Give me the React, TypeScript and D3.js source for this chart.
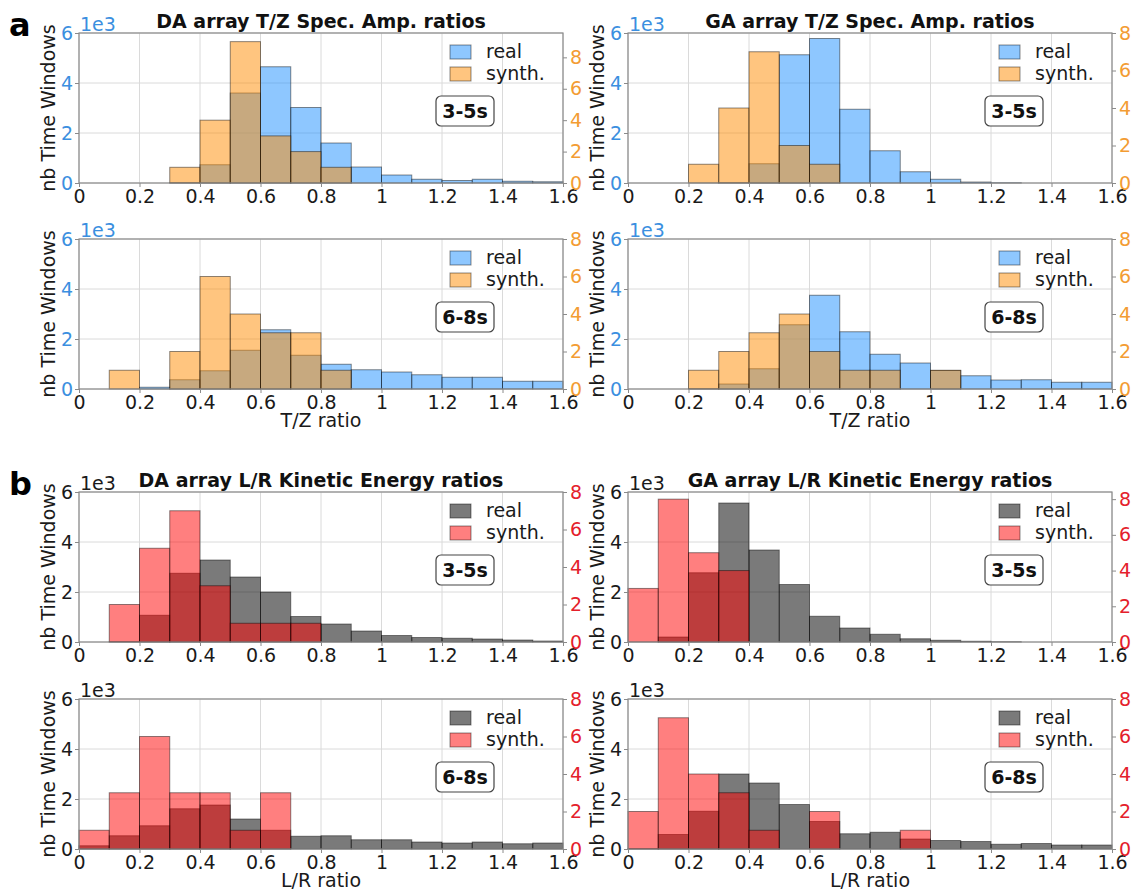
import { useEffect, useRef } from 'react';
import * as d3 from 'd3';

// histogram bins (ratio), 0.1 wide
const binStarts = [0, 0.1, 0.2, 0.3, 0.4, 0.5, 0.6, 0.7, 0.8, 0.9, 1.0, 1.1, 1.2, 1.3, 1.4, 1.5];
const binWidth = 0.1;
const xTicks = [0, 0.2, 0.4, 0.6, 0.8, 1, 1.2, 1.4, 1.6];
const leftTicks = [0, 2, 4, 6];
const rightTicks = [0, 2, 4, 6, 8];

// real = nb time windows (x1e3, left axis), synth = counts (right axis)
const daTZ35Real = [0, 0, 0, 0.02, 0.73, 3.6, 4.65, 3.02, 1.6, 0.64, 0.32, 0.15, 0.1, 0.15, 0.07, 0.05];
const daTZ35Synth = [0, 0, 0, 1, 4, 9, 3, 2, 1, 0, 0, 0, 0, 0, 0, 0];
const gaTZ35Real = [0, 0, 0, 0.02, 0.77, 5.13, 5.78, 2.95, 1.29, 0.45, 0.15, 0.04, 0.01, 0, 0, 0];
const gaTZ35Synth = [0, 0, 1, 4, 7, 2, 1, 0, 0, 0, 0, 0, 0, 0, 0, 0];
const daTZ68Real = [0, 0, 0.07, 0.37, 0.73, 1.55, 2.37, 1.35, 0.99, 0.77, 0.68, 0.57, 0.47, 0.47, 0.31, 0.31];
const daTZ68Synth = [0, 1, 0, 2, 6, 4, 3, 3, 1, 0, 0, 0, 0, 0, 0, 0];
const gaTZ68Real = [0, 0, 0.02, 0.2, 0.81, 2.57, 3.75, 2.29, 1.39, 1.04, 0.74, 0.53, 0.36, 0.37, 0.27, 0.27];
const gaTZ68Synth = [0, 0, 1, 2, 3, 4, 2, 1, 1, 0, 1, 0, 0, 0, 0, 0];

const daLR35Real = [0, 0.02, 1.07, 2.75, 3.28, 2.6, 2.0, 1.02, 0.72, 0.44, 0.26, 0.18, 0.15, 0.12, 0.08, 0.04];
const daLR35Synth = [0, 2, 5, 7, 3, 1, 1, 1, 0, 0, 0, 0, 0, 0, 0, 0];
const gaLR35Real = [0, 0.2, 2.77, 5.56, 3.68, 2.3, 1.03, 0.56, 0.31, 0.13, 0.07, 0.03, 0.01, 0, 0, 0];
const gaLR35Synth = [3, 8, 5, 4, 0, 0, 0, 0, 0, 0, 0, 0, 0, 0, 0, 0];
const daLR68Real = [0.13, 0.53, 0.93, 1.61, 1.76, 1.2, 0.75, 0.51, 0.53, 0.37, 0.37, 0.28, 0.24, 0.28, 0.21, 0.24];
const daLR68Synth = [1, 3, 6, 3, 3, 1, 3, 0, 0, 0, 0, 0, 0, 0, 0, 0];
const gaLR68Real = [0.02, 0.58, 1.51, 3.0, 2.64, 1.78, 1.1, 0.61, 0.67, 0.4, 0.34, 0.3, 0.19, 0.22, 0.16, 0.16];
const gaLR68Synth = [2, 7, 4, 3, 1, 0, 2, 0, 0, 1, 0, 0, 0, 0, 0, 0];

const panels = [
  { row: 0, col: 0, group: 'a', title: 'DA array T/Z Spec. Amp. ratios', real: daTZ35Real, synth: daTZ35Synth, synthMax: 9.55, period: '3-5s', xLabel: '' },
  { row: 0, col: 1, group: 'a', title: 'GA array T/Z Spec. Amp. ratios', real: gaTZ35Real, synth: gaTZ35Synth, synthMax: 8, period: '3-5s', xLabel: '' },
  { row: 1, col: 0, group: 'a', title: '', real: daTZ68Real, synth: daTZ68Synth, synthMax: 8, period: '6-8s', xLabel: 'T/Z ratio' },
  { row: 1, col: 1, group: 'a', title: '', real: gaTZ68Real, synth: gaTZ68Synth, synthMax: 8, period: '6-8s', xLabel: 'T/Z ratio' },
  { row: 2, col: 0, group: 'b', title: 'DA array L/R Kinetic Energy ratios', real: daLR35Real, synth: daLR35Synth, synthMax: 8, period: '3-5s', xLabel: '' },
  { row: 2, col: 1, group: 'b', title: 'GA array L/R Kinetic Energy ratios', real: gaLR35Real, synth: gaLR35Synth, synthMax: 8.4, period: '3-5s', xLabel: '' },
  { row: 3, col: 0, group: 'b', title: '', real: daLR68Real, synth: daLR68Synth, synthMax: 8, period: '6-8s', xLabel: 'L/R ratio' },
  { row: 3, col: 1, group: 'b', title: '', real: gaLR68Real, synth: gaLR68Synth, synthMax: 8, period: '6-8s', xLabel: 'L/R ratio' },
];

const groupStyle: any = {
  a: { real: '#1e90ff', realAlpha: 0.5, synth: '#ff8c00', synthAlpha: 0.5, left: '#3b8fe0', right: '#f39c33' },
  b: { real: '#000000', realAlpha: 0.52, synth: '#ff0000', synthAlpha: 0.5, left: '#1a1a1a', right: '#e4202b' },
};

const FONT = '"DejaVu Sans", sans-serif';
const PLOT_W = 484;
const PLOT_H = 150;
const COL_X = [79, 628];
const ROW_Y = [33, 239, 492, 699];
const GRID = '#dadada';
const FRAME = '#8a8a8a';

export default function App() {
  const svgRef = useRef<SVGSVGElement>(null);

  useEffect(() => {
    if (!svgRef.current) return;
    const svg = d3.select(svgRef.current);
    svg.selectAll('*').remove();

    svg.append('rect').attr('width', 1131).attr('height', 892).attr('fill', '#fff');

    const x = d3.scaleLinear().domain([0, 1.6]).range([0, PLOT_W]);
    const yLeft = d3.scaleLinear().domain([0, 6]).range([PLOT_H, 0]);

    panels.forEach(p => {
      const st = groupStyle[p.group];
      const ySynth = d3.scaleLinear().domain([0, p.synthMax]).range([PLOT_H, 0]);
      const g = svg.append('g')
        .attr('transform', `translate(${COL_X[p.col]},${ROW_Y[p.row]})`)
        .attr('font-family', FONT);

      // grid
      g.append('g').selectAll('line').data(xTicks).join('line')
        .attr('x1', d => x(d)).attr('x2', d => x(d))
        .attr('y1', 0).attr('y2', PLOT_H)
        .attr('stroke', GRID).attr('stroke-width', 1);
      g.append('g').selectAll('line').data(leftTicks).join('line')
        .attr('x1', 0).attr('x2', PLOT_W)
        .attr('y1', d => yLeft(d)).attr('y2', d => yLeft(d))
        .attr('stroke', GRID).attr('stroke-width', 1);

      const drawBars = (vals: number[], scale: any, color: string, alpha: number) => {
        const data = vals.map((v, i) => ({ x0: binStarts[i], v })).filter(d => d.v > 0);
        g.append('g').selectAll('rect').data(data).join('rect')
          .attr('x', d => x(d.x0))
          .attr('width', d => x(d.x0 + binWidth) - x(d.x0))
          .attr('y', d => scale(d.v))
          .attr('height', d => PLOT_H - scale(d.v))
          .attr('fill', color).attr('fill-opacity', alpha)
          .attr('stroke', '#000').attr('stroke-opacity', 0.45).attr('stroke-width', 1);
      };
      drawBars(p.real, yLeft, st.real, st.realAlpha);
      drawBars(p.synth, ySynth, st.synth, st.synthAlpha);

      // axes
      const xAxis = g.append('g').attr('transform', `translate(0,${PLOT_H})`)
        .call(d3.axisBottom(x).tickValues(xTicks).tickSize(4).tickPadding(3).tickFormat((d: any) => String(d)));
      const yAxis = g.append('g')
        .call(d3.axisLeft(yLeft).tickValues(leftTicks).tickSize(4).tickPadding(2).tickFormat((d: any) => String(d)));
      const yAxisR = g.append('g').attr('transform', `translate(${PLOT_W},0)`)
        .call(d3.axisRight(ySynth).tickValues(rightTicks).tickSize(4).tickPadding(3).tickFormat((d: any) => String(d)));
      [xAxis, yAxis, yAxisR].forEach(a => {
        a.attr('font-size', 19).attr('font-family', FONT);
        a.select('.domain').remove();
        a.selectAll('line').attr('stroke', FRAME);
      });
      xAxis.selectAll('text').attr('fill', '#1a1a1a');
      yAxis.selectAll('text').attr('fill', st.left);
      yAxisR.selectAll('text').attr('fill', st.right);

      // frame
      g.append('rect')
        .attr('width', PLOT_W).attr('height', PLOT_H)
        .attr('fill', 'none').attr('stroke', FRAME).attr('stroke-width', 1.2);

      // offset text
      g.append('text')
        .attr('x', 1).attr('y', -2)
        .attr('font-size', 19).attr('fill', st.left)
        .text('1e3');

      // y label
      g.append('text')
        .attr('transform', `translate(-24,${PLOT_H / 2}) rotate(-90)`)
        .attr('text-anchor', 'middle')
        .attr('font-size', 19).attr('fill', '#1a1a1a')
        .text('nb Time Windows');

      if (p.xLabel) {
        g.append('text')
          .attr('x', PLOT_W / 2).attr('y', PLOT_H + 38)
          .attr('text-anchor', 'middle')
          .attr('font-size', 19).attr('fill', '#1a1a1a')
          .text(p.xLabel);
      }

      if (p.title) {
        g.append('text')
          .attr('x', PLOT_W / 2).attr('y', -5)
          .attr('text-anchor', 'middle')
          .attr('font-size', 19).attr('font-weight', 'bold').attr('fill', '#111')
          .text(p.title);
      }

      // legend
      const legend = g.append('g').attr('transform', `translate(${PLOT_W - 113},0)`);
      [
        { label: 'real', color: st.real, alpha: st.realAlpha },
        { label: 'synth.', color: st.synth, alpha: st.synthAlpha },
      ].forEach((item, i) => {
        legend.append('rect')
          .attr('x', 0).attr('y', 12 + i * 22)
          .attr('width', 21).attr('height', 14)
          .attr('fill', item.color).attr('fill-opacity', item.alpha)
          .attr('stroke', '#000').attr('stroke-opacity', 0.45);
        legend.append('text')
          .attr('x', 36).attr('y', 25 + i * 22)
          .attr('font-size', 19).attr('fill', '#1a1a1a')
          .text(item.label);
      });

      // period box
      g.append('rect')
        .attr('x', PLOT_W - 127).attr('y', 63)
        .attr('width', 58).attr('height', 30)
        .attr('rx', 5).attr('ry', 5)
        .attr('fill', '#fff').attr('stroke', '#444').attr('stroke-width', 1.2);
      g.append('text')
        .attr('x', PLOT_W - 98).attr('y', 78)
        .attr('dy', '0.35em')
        .attr('text-anchor', 'middle')
        .attr('font-size', 19).attr('font-weight', 'bold').attr('fill', '#111')
        .text(p.period);
    });

    // panel letters
    svg.append('text').attr('x', 9).attr('y', 36)
      .attr('font-family', FONT).attr('font-size', 32).attr('font-weight', 'bold')
      .text('a');
    svg.append('text').attr('x', 9).attr('y', 495)
      .attr('font-family', FONT).attr('font-size', 32).attr('font-weight', 'bold')
      .text('b');
  }, []);

  return (
    <div style={{ position: 'absolute', left: 0, top: 0 }}>
      <svg ref={svgRef} width={1131} height={892} style={{ display: 'block' }} />
    </div>
  );
}
